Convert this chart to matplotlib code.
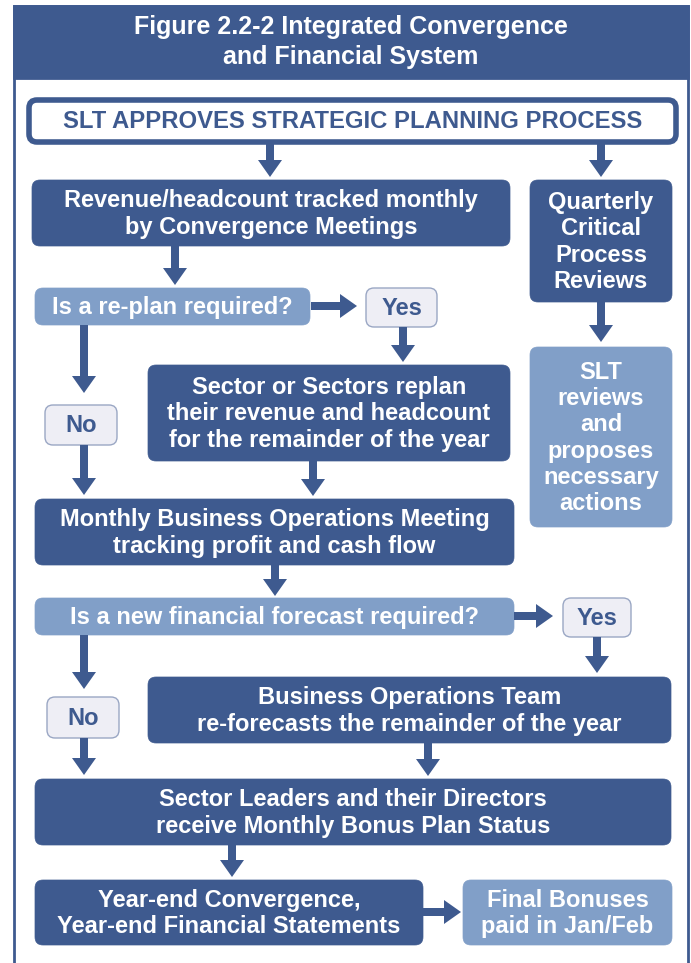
#flowchart: Integrated Convergence and Financial System

import matplotlib.pyplot as plt
from matplotlib.patches import FancyBboxPatch, FancyArrow, Rectangle

# text content
# ------------------------------------------------
title = "Figure 2.2-2 Integrated Convergence\nand Financial System"
labels = [
    "SLT APPROVES STRATEGIC PLANNING PROCESS",
    "Revenue/headcount tracked monthly\nby Convergence Meetings",
    "Quarterly\nCritical\nProcess\nReviews",
    "Is a re-plan required?",
    "Yes",
    "No",
    "Sector or Sectors replan\ntheir revenue and headcount\nfor the remainder of the year",
    "SLT\nreviews\nand\nproposes\nnecessary\nactions",
    "Monthly Business Operations Meeting\ntracking profit and cash flow",
    "Is a new financial forecast required?",
    "Yes",
    "No",
    "Business Operations Team\nre-forecasts the remainder of the year",
    "Sector Leaders and their Directors\nreceive Monthly Bonus Plan Status",
    "Year-end Convergence,\nYear-end Financial Statements",
    "Final Bonuses\npaid in Jan/Feb",
]
kinds = ["top", "dark", "dark", "light", "pale", "pale", "dark", "light",
         "dark", "light", "pale", "pale", "dark", "dark", "dark", "light"]
# ------------------------------------------------

# layout (pixels): x0, y0, x1, y1
boxes = [
    (29, 100, 676, 142),
    (32, 180, 510, 246),
    (530, 180, 672, 302),
    (35, 288, 310, 325),
    (366, 288, 437, 327),
    (45, 405, 117, 445),
    (148, 365, 510, 461),
    (530, 347, 672, 527),
    (35, 499, 514, 565),
    (35, 598, 514, 635),
    (563, 598, 631, 637),
    (47, 697, 119, 738),
    (148, 677, 671, 743),
    (35, 779, 671, 845),
    (35, 880, 423, 945),
    (463, 880, 672, 945),
]
arrows = [  # x0, y0, x1, y1
    (270, 142, 270, 177), (601, 142, 601, 177),
    (175, 246, 175, 285),
    (311, 306, 357, 306),
    (403, 327, 403, 362),
    (84, 325, 84, 393),
    (84, 445, 84, 495),
    (313, 461, 313, 496),
    (601, 302, 601, 342),
    (275, 565, 275, 596),
    (514, 616, 553, 616),
    (597, 637, 597, 673),
    (84, 635, 84, 689),
    (84, 738, 84, 775),
    (428, 743, 428, 776),
    (232, 845, 232, 877),
    (423, 912, 461, 912),
]

DARK = "#3e5a8f"
LIGHT = "#819fc8"
PALE = "#eeeef5"

fig = plt.figure(figsize=(6.91, 9.63), dpi=100)
ax = fig.add_axes([0, 0, 1, 1])
ax.set_xlim(0, 691)
ax.set_ylim(963, 0)
ax.axis("off")

font = "Liberation Sans"

# frame + header
ax.add_patch(Rectangle((14, 6), 674, 980, fc="white", ec=DARK, lw=2))
ax.add_patch(Rectangle((14, 6), 674, 72, fc=DARK, ec=DARK, lw=2))
ax.text(351, 42, title, ha="center", va="center", color="white",
        fontsize=18, fontweight="bold", family=font, linespacing=1.3)

for (x0, y0, x1, y1), lab, k in zip(boxes, labels, kinds):
    if k == "top":
        fc, ec, tc, lw = "white", DARK, DARK, 4
    elif k == "dark":
        fc, ec, tc, lw = DARK, DARK, "white", 0.5
    elif k == "light":
        fc, ec, tc, lw = LIGHT, LIGHT, "white", 0.5
    else:
        fc, ec, tc, lw = PALE, "#9aa7c4", DARK, 1
    fs = 17.2 if k == "top" else 17
    ax.add_patch(FancyBboxPatch((x0, y0), x1 - x0, y1 - y0,
                                boxstyle="round,pad=0,rounding_size=8",
                                fc=fc, ec=ec, lw=lw))
    ax.text((x0 + x1) / 2, (y0 + y1) / 2 + 1, lab, ha="center", va="center",
            color=tc, fontsize=fs, fontweight="bold", family=font,
            linespacing=1.17)

for x0, y0, x1, y1 in arrows:
    ax.add_patch(FancyArrow(x0, y0, x1 - x0, y1 - y0, width=8,
                            head_width=24, head_length=17,
                            length_includes_head=True, fc=DARK, ec=DARK,
                            lw=0))

plt.savefig("out.png", dpi=100)
